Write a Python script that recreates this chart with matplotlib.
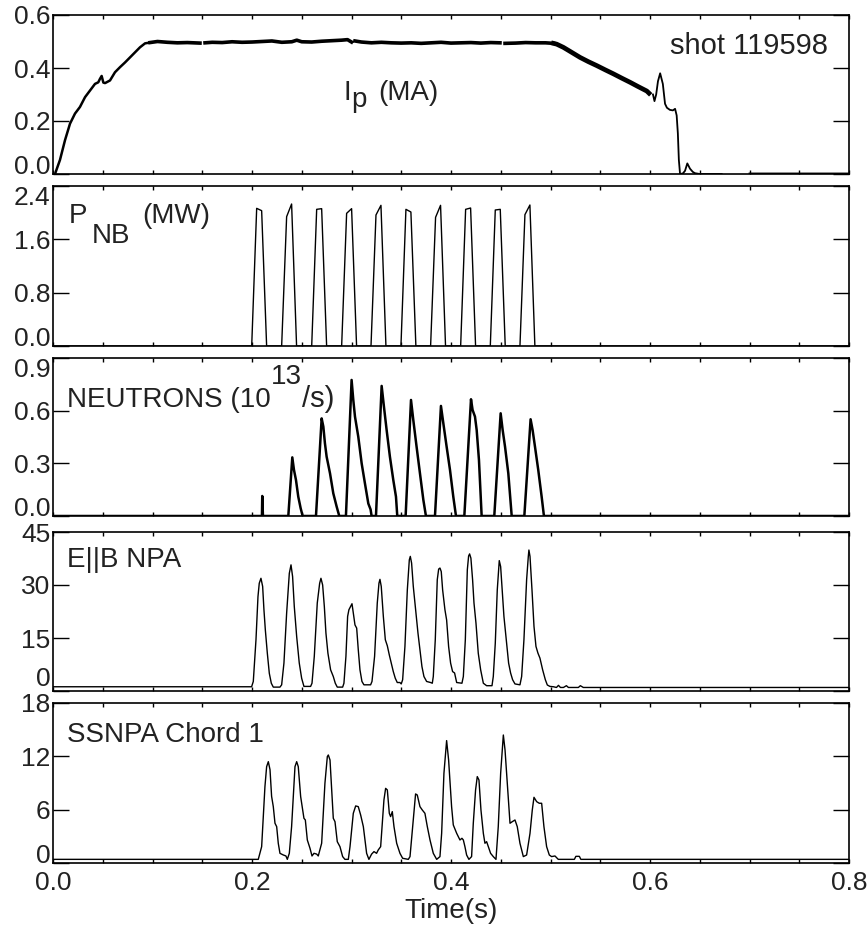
import numpy as np
import matplotlib
matplotlib.use("Agg")
import matplotlib.pyplot as plt
from matplotlib.ticker import MultipleLocator

plt.rcParams["font.family"] = ["Liberation Sans", "DejaVu Sans"]
nan = np.nan

# ---- plasma current Ip (MA) ----
ip_ramp_t = [0.0020, 0.0070, 0.0121, 0.0171, 0.0221, 0.0271, 0.0322, 0.0372, 0.0422, 0.0455,
             0.0472, 0.0489, 0.0506, 0.0523, 0.0573, 0.0623, 0.0673, 0.0724, 0.0774, 0.0824,
             0.0874, 0.0925, 0.0975]
ip_ramp_v = [0.000, 0.053, 0.128, 0.190, 0.228, 0.253, 0.290, 0.315, 0.340, 0.346,
             0.359, 0.370, 0.345, 0.343, 0.353, 0.384, 0.403, 0.421, 0.440, 0.459,
             0.478, 0.493, 0.496]
ip_flat_t = [0.0975, 0.105, 0.115, 0.125, 0.135, 0.1477, nan, 0.1528, 0.160, 0.170, 0.180,
             0.190, 0.200, 0.210, 0.220, 0.230, 0.240, 0.245, 0.250, 0.260, 0.270, 0.280,
             0.290, 0.296, 0.300, nan, 0.3035, 0.310, 0.320, 0.330, 0.340, 0.350, 0.360,
             0.370, 0.380, 0.390, 0.400, 0.410, 0.420, 0.430, 0.440, 0.4492, nan, 0.4543,
             0.465, 0.475, 0.485, 0.495, 0.503]
ip_flat_v = [0.496, 0.500, 0.497, 0.495, 0.496, 0.494, nan, 0.495, 0.497, 0.496, 0.499,
             0.497, 0.498, 0.500, 0.502, 0.497, 0.499, 0.505, 0.499, 0.498, 0.501, 0.503,
             0.505, 0.507, 0.498, nan, 0.502, 0.498, 0.495, 0.497, 0.495, 0.494, 0.495,
             0.493, 0.495, 0.497, 0.494, 0.495, 0.496, 0.494, 0.496, 0.495, nan, 0.493,
             0.494, 0.496, 0.495, 0.495, 0.493]
ip_decl_t = [0.5030, 0.5062, 0.5129, 0.5200, 0.5297, 0.5380, 0.5465, 0.5550, 0.5632, 0.5720,
             0.5800, 0.5880, 0.5968, 0.5990]
ip_decl_v = [0.493, 0.490, 0.478, 0.462, 0.440, 0.424, 0.409, 0.393, 0.378, 0.361,
             0.346, 0.330, 0.313, 0.305]
ip_tail_t = [0.6030, 0.6045, 0.6062, 0.6080, 0.6102, 0.6129, 0.6151, 0.6170, 0.6200, 0.6230,
             0.6252, 0.6268, 0.6280, 0.6290, 0.6302, 0.6330, 0.6352, 0.6375, 0.6402, 0.6430,
             0.6452, 0.6500, 0.6600, 0.6720, nan, 0.7000, 0.7200, 0.7400, 0.7600, 0.7800, 0.8000]
ip_tail_v = [0.300, 0.275, 0.300, 0.350, 0.380, 0.340, 0.265, 0.250, 0.242, 0.240,
             0.246, 0.221, 0.153, 0.053, 0.000, 0.002, 0.012, 0.040, 0.020, 0.008,
             0.003, 0.000, 0.000, 0.000, nan, 0.002, 0.002, 0.002, 0.002, 0.002, 0.002]

# ---- neutral beam power (MW) ----
pnb_t = [0.0, 0.1997, 0.2047, 0.2097, 0.2147, 0.2298, 0.2348, 0.2398, 0.2448,
         0.2600, 0.2650, 0.2700, 0.2750, 0.2901, 0.2951, 0.3001, 0.3051,
         0.3196, 0.3246, 0.3296, 0.3346, 0.3497, 0.3547, 0.3597, 0.3647,
         0.3795, 0.3845, 0.3895, 0.3945, 0.4097, 0.4147, 0.4197, 0.4247,
         0.4395, 0.4445, 0.4495, 0.4545, 0.4693, 0.4743, 0.4793, 0.4843, 0.8]
pnb_v = [0.0, 0.0, 2.065, 2.03, 0.0, 0.0, 1.94, 2.13, 0.0,
         0.0, 2.05, 2.06, 0.0, 0.0, 1.99, 2.06, 0.0,
         0.0, 1.965, 2.11, 0.0, 0.0, 2.05, 2.01, 0.0,
         0.0, 1.93, 2.11, 0.0, 0.0, 2.05, 2.07, 0.0,
         0.0, 2.04, 2.05, 0.0, 0.0, 1.97, 2.115, 0.0, 0.0]

# ---- neutron rate (1e13/s) ----
neut_t = [0.0, 0.2100, 0.2103, 0.2110, 0.2365, 0.2405, 0.2422, 0.2442, 0.2465, 0.2489, 0.2509,
          0.2643, 0.2700, 0.2717, 0.2733, 0.2750, 0.2784, 0.2817, 0.2851, 0.2877,
          0.2944, 0.3001, 0.3018, 0.3035, 0.3068, 0.3102, 0.3135, 0.3169, 0.3192, 0.3202,
          0.3246, 0.3303, 0.3326, 0.3353, 0.3386, 0.3420, 0.3447, 0.3460,
          0.3544, 0.3598, 0.3621, 0.3654, 0.3688, 0.3722, 0.3748,
          0.3839, 0.3899, 0.3923, 0.3956, 0.3990, 0.4023, 0.4050,
          0.4134, 0.4201, 0.4217, 0.4241, 0.4258, 0.4281, 0.4308,
          0.4435, 0.4499, 0.4519, 0.4543, 0.4576, 0.4610,
          0.4737, 0.4800, 0.4820, 0.4844, 0.4877, 0.4911, 0.4934, 0.8]
neut_v = [0.0, 0.0, 0.114, 0.0, 0.0, 0.334, 0.262, 0.205, 0.110, 0.044, 0.0,
          0.0, 0.556, 0.509, 0.414, 0.338, 0.243, 0.129, 0.053, 0.0,
          0.0, 0.775, 0.661, 0.566, 0.452, 0.300, 0.186, 0.071, 0.037, 0.0,
          0.0, 0.741, 0.623, 0.490, 0.338, 0.205, 0.110, 0.0,
          0.0, 0.661, 0.547, 0.395, 0.243, 0.092, 0.0,
          0.0, 0.627, 0.528, 0.395, 0.262, 0.110, 0.0,
          0.0, 0.665, 0.604, 0.566, 0.490, 0.319, 0.0,
          0.0, 0.585, 0.490, 0.395, 0.243, 0.0,
          0.0, 0.551, 0.490, 0.395, 0.262, 0.110, 0.0, 0.0]

# ---- E||B NPA counts ----
npa_t = [0.0, 0.1996, 0.2013, 0.2040, 0.2060, 0.2073, 0.2090, 0.2107, 0.2120, 0.2134, 0.2154,
         0.2174, 0.2194, 0.2214, 0.2281,
         0.2298, 0.2321, 0.2348, 0.2375, 0.2392, 0.2408, 0.2425, 0.2449, 0.2475, 0.2499, 0.2522, 0.2589,
         0.2603, 0.2626, 0.2656, 0.2680, 0.2693, 0.2710, 0.2727, 0.2743, 0.2763, 0.2790, 0.2817,
         0.2837, 0.2857, 0.2911,
         0.2924, 0.2944, 0.2961, 0.2974, 0.2991, 0.3005, 0.3018, 0.3035, 0.3052, 0.3068, 0.3085,
         0.3105, 0.3125, 0.3192,
         0.3206, 0.3232, 0.3259, 0.3276, 0.3286, 0.3299, 0.3320, 0.3340, 0.3360, 0.3380, 0.3400,
         0.3420, 0.3440, 0.3460, 0.3487, 0.3500,
         0.3514, 0.3537, 0.3561, 0.3581, 0.3591, 0.3604, 0.3621, 0.3644, 0.3668, 0.3688, 0.3708,
         0.3728, 0.3755, 0.3795, 0.3812,
         0.3822, 0.3842, 0.3862, 0.3876, 0.3889, 0.3902, 0.3916, 0.3939, 0.3956, 0.3976, 0.3996,
         0.4016, 0.4036, 0.4057, 0.4110,
         0.4124, 0.4144, 0.4164, 0.4177, 0.4187, 0.4200, 0.4217, 0.4231, 0.4251, 0.4274, 0.4298,
         0.4325, 0.4358, 0.4412,
         0.4425, 0.4445, 0.4465, 0.4485, 0.4499, 0.4512, 0.4532, 0.4559, 0.4579, 0.4599, 0.4619,
         0.4643, 0.4693,
         0.4710, 0.4733, 0.4760, 0.4777, 0.4783, 0.4794, 0.4814, 0.4834, 0.4854, 0.4874, 0.4894,
         0.4921, 0.4948, 0.4968, 0.4994,
         0.5030, 0.5060, 0.5080, 0.5100, 0.5130, 0.5160, 0.5180, 0.5280, 0.5300, 0.5330, 0.8]
npa_v = [1.2, 1.2, 2.7, 14.5, 26.7, 30.5, 31.9, 29.6, 23.0, 17.3, 10.7,
         5.0, 2.2, 1.1, 1.1,
         1.75, 7.9, 22.0, 33.3, 35.7, 32.4, 23.9, 15.4, 7.9, 3.6, 1.3, 1.3,
         2.2, 9.8, 24.9, 30.5, 31.9, 30.0, 23.9, 16.4, 10.7, 6.0, 4.1,
         2.2, 1.1, 1.1,
         2.2, 9.8, 21.1, 23.0, 23.9, 24.7, 22.0, 18.7, 17.8, 11.7, 6.0,
         2.7, 1.75, 1.75,
         2.7, 9.8, 24.9, 30.5, 31.6, 29.6, 21.1, 14.5, 12.8, 10.2, 7.9,
         5.5, 3.6, 2.4, 2.4, 2.0,
         3.2, 12.6, 28.6, 37.1, 38.1, 36.2, 29.6, 23.0, 16.4, 11.7, 6.9,
         4.1, 2.7, 2.4, 2.2,
         4.1, 14.5, 31.5, 34.5, 34.8, 33.8, 28.6, 23.0, 20.1, 12.6, 7.9,
         5.5, 5.1, 2.4, 2.2,
         4.1, 14.5, 34.3, 38.2, 38.8, 37.6, 31.5, 24.9, 19.2, 10.7, 6.0,
         2.2, 1.5, 1.5,
         4.1, 13.5, 28.6, 36.9, 35.2, 29.6, 21.1, 13.5, 7.9, 5.1, 3.2,
         2.0, 1.75,
         4.1, 14.5, 31.5, 38.1, 39.9, 38.1, 28.6, 18.3, 12.6, 10.7, 9.3,
         6.0, 3.2, 1.7, 1.3,
         1.2, 1.0, 1.6, 1.0, 1.0, 1.5, 1.0, 1.0, 1.5, 1.0, 1.0]

# ---- SSNPA chord 1 ----
ss_t = [0.0, 0.2063, 0.2097, 0.2130, 0.2147, 0.2164, 0.2181, 0.2197, 0.2214, 0.2231, 0.2248,
        0.2264, 0.2281, 0.2315, 0.2341, 0.2355,
        0.2375, 0.2398, 0.2432, 0.2449, 0.2465, 0.2489, 0.2522, 0.2536, 0.2556, 0.2583, 0.2603,
        0.2623, 0.2650, 0.2666,
        0.2700, 0.2733, 0.2757, 0.2767, 0.2784, 0.2817, 0.2834, 0.2857, 0.2884, 0.2911, 0.2934, 0.2968,
        0.2985, 0.3018, 0.3042, 0.3068, 0.3092, 0.3119, 0.3135, 0.3152, 0.3175, 0.3202, 0.3226,
        0.3252, 0.3269, 0.3293,
        0.3326, 0.3343, 0.3360, 0.3380, 0.3393, 0.3410, 0.3427, 0.3454, 0.3487, 0.3514, 0.3571,
        0.3588, 0.3621, 0.3644, 0.3661, 0.3688, 0.3711, 0.3738, 0.3762, 0.3789, 0.3822, 0.3856, 0.3889,
        0.3906, 0.3929, 0.3956, 0.3976, 0.4006, 0.4023, 0.4057, 0.4090, 0.4110, 0.4124, 0.4140,
        0.4157, 0.4180, 0.4207,
        0.4224, 0.4247, 0.4264, 0.4281, 0.4301, 0.4325, 0.4341, 0.4358, 0.4375, 0.4398, 0.4425, 0.4452,
        0.4475, 0.4499, 0.4526, 0.4543, 0.4566, 0.4593, 0.4616, 0.4643, 0.4666, 0.4693, 0.4727, 0.4760,
        0.4794, 0.4817, 0.4834, 0.4861, 0.4887, 0.4911, 0.4934, 0.4961, 0.4988, 0.5011, 0.5045, 0.5078,
        0.5240, 0.5255, 0.5290, 0.5305, 0.8]
ss_v = [0.41, 0.41, 1.84, 8.59, 10.84, 11.4, 10.5, 7.5, 6.34, 4.47, 4.09,
        2.22, 1.09, 0.9, 0.79, 0.41,
        1.09, 4.09, 10.84, 11.4, 10.84, 7.47, 5.03, 4.84, 2.59, 1.65, 0.79,
        1.09, 1.0, 0.79,
        2.22, 8.97, 11.97, 12.15, 11.59, 5.03, 4.65, 2.4, 1.84, 0.72, 0.41, 0.41,
        1.84, 5.59, 6.42, 6.34, 5.40, 4.09, 2.59, 1.09, 0.41, 1.0, 1.28,
        1.09, 1.47, 1.84,
        7.09, 8.4, 8.22, 5.59, 5.22, 5.78, 4.09, 2.22, 1.09, 0.53, 0.41,
        0.72, 4.84, 7.77, 7.65, 6.34, 5.97, 5.59, 4.09, 2.59, 1.09, 0.41, 0.72,
        3.34, 10.09, 13.77, 11.59, 6.34, 4.28, 3.34, 2.59, 2.78, 2.59, 1.84,
        0.9, 0.41, 0.72,
        4.47, 8.22, 9.72, 9.34, 5.97, 3.34, 2.22, 2.4, 1.84, 1.09, 0.72, 0.41,
        4.09, 10.09, 14.4, 12.72, 8.97, 4.47, 4.65, 4.84, 4.09, 2.22, 0.72, 0.9,
        3.34, 5.97, 7.39, 6.9, 6.72, 6.72, 4.09, 1.84, 0.9, 0.72, 0.79, 0.41,
        0.41, 0.75, 0.75, 0.41, 0.41]

# ---- axis ticks ----
ip_ticks, ip_labels = [0.0, 0.2, 0.4, 0.6], ["0.0", "0.2", "0.4", "0.6"]
pnb_ticks, pnb_labels = [0.0, 0.8, 1.6, 2.4], ["0.0", "0.8", "1.6", "2.4"]
neut_ticks, neut_labels = [0.0, 0.3, 0.6, 0.9], ["0.0", "0.3", "0.6", "0.9"]
npa_ticks, npa_labels = [0, 15, 30, 45], ["0", "15", "30", "45"]
ss_ticks, ss_labels = [0, 6, 12, 18], ["0", "6", "12", "18"]
time_ticks, time_labels = [0.0, 0.2, 0.4, 0.6, 0.8], ["0.0", "0.2", "0.4", "0.6", "0.8"]

W, H = 867, 935
fig = plt.figure(figsize=(W / 100, H / 100), dpi=100)

# panel boxes in pixels (top, bottom)
boxes = [(15, 174), (186, 346), (358, 516), (532, 691), (703, 863)]
L, R = 53, 849
axes = [fig.add_axes([L / W, 1 - b / H, (R - L) / W, (b - t) / H]) for t, b in boxes]

TICKFS = 19
TXTFS = 20
TXTC = "#222222"


def style(ax, ticks, labels, top_va="center_baseline", bot_va="baseline"):
    ax.set_xlim(0, 0.8)
    ax.set_ylim(ticks[0], ticks[-1])
    ax.set_yticks(ticks)
    ax.set_yticklabels(labels)
    ax.set_xticks(time_ticks)
    ax.set_xticklabels(time_labels)
    ax.xaxis.set_minor_locator(MultipleLocator(0.05))
    ax.tick_params(axis="x", which="both", direction="in", top=True, bottom=True,
                   length=3, width=1, labelsize=TICKFS, pad=6, labelbottom=False,
                   labelcolor=TXTC)
    ax.tick_params(axis="y", which="major", direction="in", left=True, right=True,
                   length=11.5, width=1, labelsize=TICKFS, pad=2, labelcolor=TXTC)
    lab = ax.get_yticklabels()
    lab[0].set_verticalalignment(bot_va)
    lab[-1].set_verticalalignment(top_va)
    for s in ax.spines.values():
        s.set_linewidth(1.2)


# Ip
ax = axes[0]
ax.plot(ip_ramp_t, ip_ramp_v, color="black", lw=1.8)
ax.plot(ip_flat_t, ip_flat_v, color="black", lw=2.6)
ax.plot(ip_decl_t, ip_decl_v, color="black", lw=3.4)
ax.plot(ip_tail_t, ip_tail_v, color="black", lw=1.3)
style(ax, ip_ticks, ip_labels)
ax.text(0.2915, 0.2775, "I", fontsize=TXTFS, color=TXTC)
ax.text(0.2995, 0.252, "p", fontsize=TXTFS, color=TXTC)
ax.text(0.3266, 0.2775, "(MA)", fontsize=TXTFS, color=TXTC)
ax.text(0.779, 0.452, "shot 119598", fontsize=21, ha="right", color=TXTC)

# P_NB
ax = axes[1]
ax.plot(pnb_t, pnb_v, color="black", lw=1.0)
style(ax, pnb_ticks, pnb_labels, top_va="top")
ax.text(0.0161, 1.845, "P", fontsize=TXTFS, color=TXTC)
ax.text(0.0392, 1.545, "NB", fontsize=TXTFS, color=TXTC)
ax.text(0.0894, 1.845, "(MW)", fontsize=TXTFS, color=TXTC)

# neutrons
ax = axes[2]
ax.plot(neut_t, neut_v, color="black", lw=1.8)
style(ax, neut_ticks, neut_labels, top_va="top")
ax.text(0.014, 0.621, "NEUTRONS (10", fontsize=TXTFS, color=TXTC)
ax.text(0.2185, 0.750, "13", fontsize=TXTFS, color=TXTC)
ax.text(0.2500, 0.621, "/s)", fontsize=21, color=TXTC)

# E||B NPA
ax = axes[3]
ax.plot(npa_t, npa_v, color="black", lw=1.0)
style(ax, npa_ticks, npa_labels, bot_va="bottom")
ax.text(0.014, 35.1, "E||B NPA", fontsize=TXTFS, color=TXTC)

# SSNPA
ax = axes[4]
ax.plot(ss_t, ss_v, color="black", lw=1.0)
style(ax, ss_ticks, ss_labels)
ax.tick_params(axis="x", labelbottom=True)
ax.set_xlabel("Time(s)", fontsize=TXTFS, labelpad=2, color=TXTC)
ax.text(0.014, 13.6, "SSNPA Chord 1", fontsize=TXTFS, color=TXTC)

fig.savefig("out.png", dpi=100)
print("Saved out.png")
